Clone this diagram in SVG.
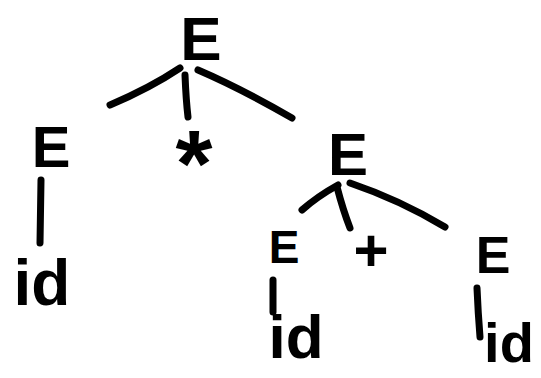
<svg xmlns="http://www.w3.org/2000/svg" width="541" height="378" viewBox="0 0 541 378">
<style>
.t{font-family:"Liberation Sans","DejaVu Sans",sans-serif;font-weight:bold;fill:#000;text-anchor:middle}
.c{fill:none;stroke:#000;stroke-width:7;stroke-linecap:round;stroke-linejoin:round}
</style>
<rect width="541" height="378" fill="#fff"/>
<g id="connectors">
<path class="c" d="M180,68 Q150,88 110,105"/>
<path class="c" d="M185,75 Q186,100 188,117"/>
<path class="c" d="M198,70 Q240,88 292,118"/>
<path class="c" d="M41,180 L40,243"/>
<path class="c" d="M338,185 Q318,196 302,210"/>
<path class="c" d="M337,187 Q343,210 350,228"/>
<path class="c" d="M350,183 Q400,200 445,227"/>
<path class="c" d="M273,280 L273,312"/>
<path class="c" d="M477,288 Q478,312 480,337"/>
</g>
<g id="n_root"><text class="t" x="201" y="60" font-size="62">E</text></g>
<g id="n_e_left"><text class="t" x="51" y="167" font-size="58">E</text></g>
<g id="n_star"><text class="t" x="194" y="196" font-size="95">*</text></g>
<g id="n_e_right"><text class="t" x="348" y="175" font-size="60">E</text></g>
<g id="n_id_left"><text class="t" x="42" y="305" font-size="64">id</text></g>
<g id="n_e_ll"><text class="t" x="284" y="263" font-size="46">E</text></g>
<g id="n_plus"><text class="t" x="371" y="271" font-size="60">+</text></g>
<g id="n_e_rr"><text class="t" x="493" y="273" font-size="52">E</text></g>
<g id="n_id_mid"><text class="t" x="296" y="358" font-size="62">id</text></g>
<g id="n_id_right"><text class="t" x="509" y="362" font-size="56">id</text></g>
</svg>
